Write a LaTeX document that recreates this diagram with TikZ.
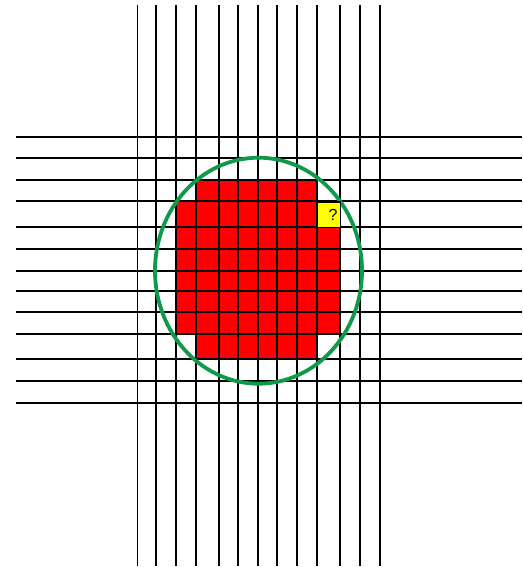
\documentclass[tikz,border=0pt]{standalone}
\usepackage{fontspec}
\setsansfont{Liberation Sans}
\usepackage{tikz}
\usetikzlibrary{positioning}
\definecolor{GridRed}{HTML}{FF0000}
\definecolor{GridGreen}{HTML}{0E9A48}
\definecolor{GridYellow}{HTML}{FFFF00}

\begin{document}
\begin{tikzpicture}[x=1pt, y=-1pt,
    gridline/.style={draw=black, line width=1.9pt},
    blob/.style={fill=GridRed, draw=none},
    circ/.style={draw=GridGreen, line width=3.8pt},
    qcell/.style={draw=black, line width=1.4pt, fill=GridYellow, anchor=north west,
      minimum width=22.7pt, minimum height=25.7pt, inner sep=0pt,
      font=\sffamily\fontsize{16}{16}\selectfont}
  ]
    \useasboundingbox (0,0) rectangle (522,567);
    % filled cells
    \path[blob] (196.3,180) -- (317,180) -- (317,201.3) -- (339.7,201.3)
      -- (339.7,334) -- (317,334) -- (317,359.3) -- (196.3,359.3)
      -- (196.3,334) -- (175.7,334) -- (175.7,201.3) -- (196.3,201.3) -- cycle;
    % grid
    \foreach \gx in {137.5,155.7,175.7,196.3,218.7,238.3,257.7,277,297.3,317,339.7,359.7,379.7}
      \draw[gridline] (\gx,5) -- (\gx,566);
    \foreach \gy in {137,158.3,180,201.3,227,248.7,270.7,290.7,312.3,334,359.3,381.3,403}
      \draw[gridline] (16,\gy) -- (522,\gy);
    % circle
    \draw[circ] (258.5,270.7) ellipse [x radius=103.5, y radius=113];
    \node[qcell] (unknown) at (317,201.3) {\hspace*{8pt}\raisebox{-3pt}{?}};
  \end{tikzpicture}
\end{document}
